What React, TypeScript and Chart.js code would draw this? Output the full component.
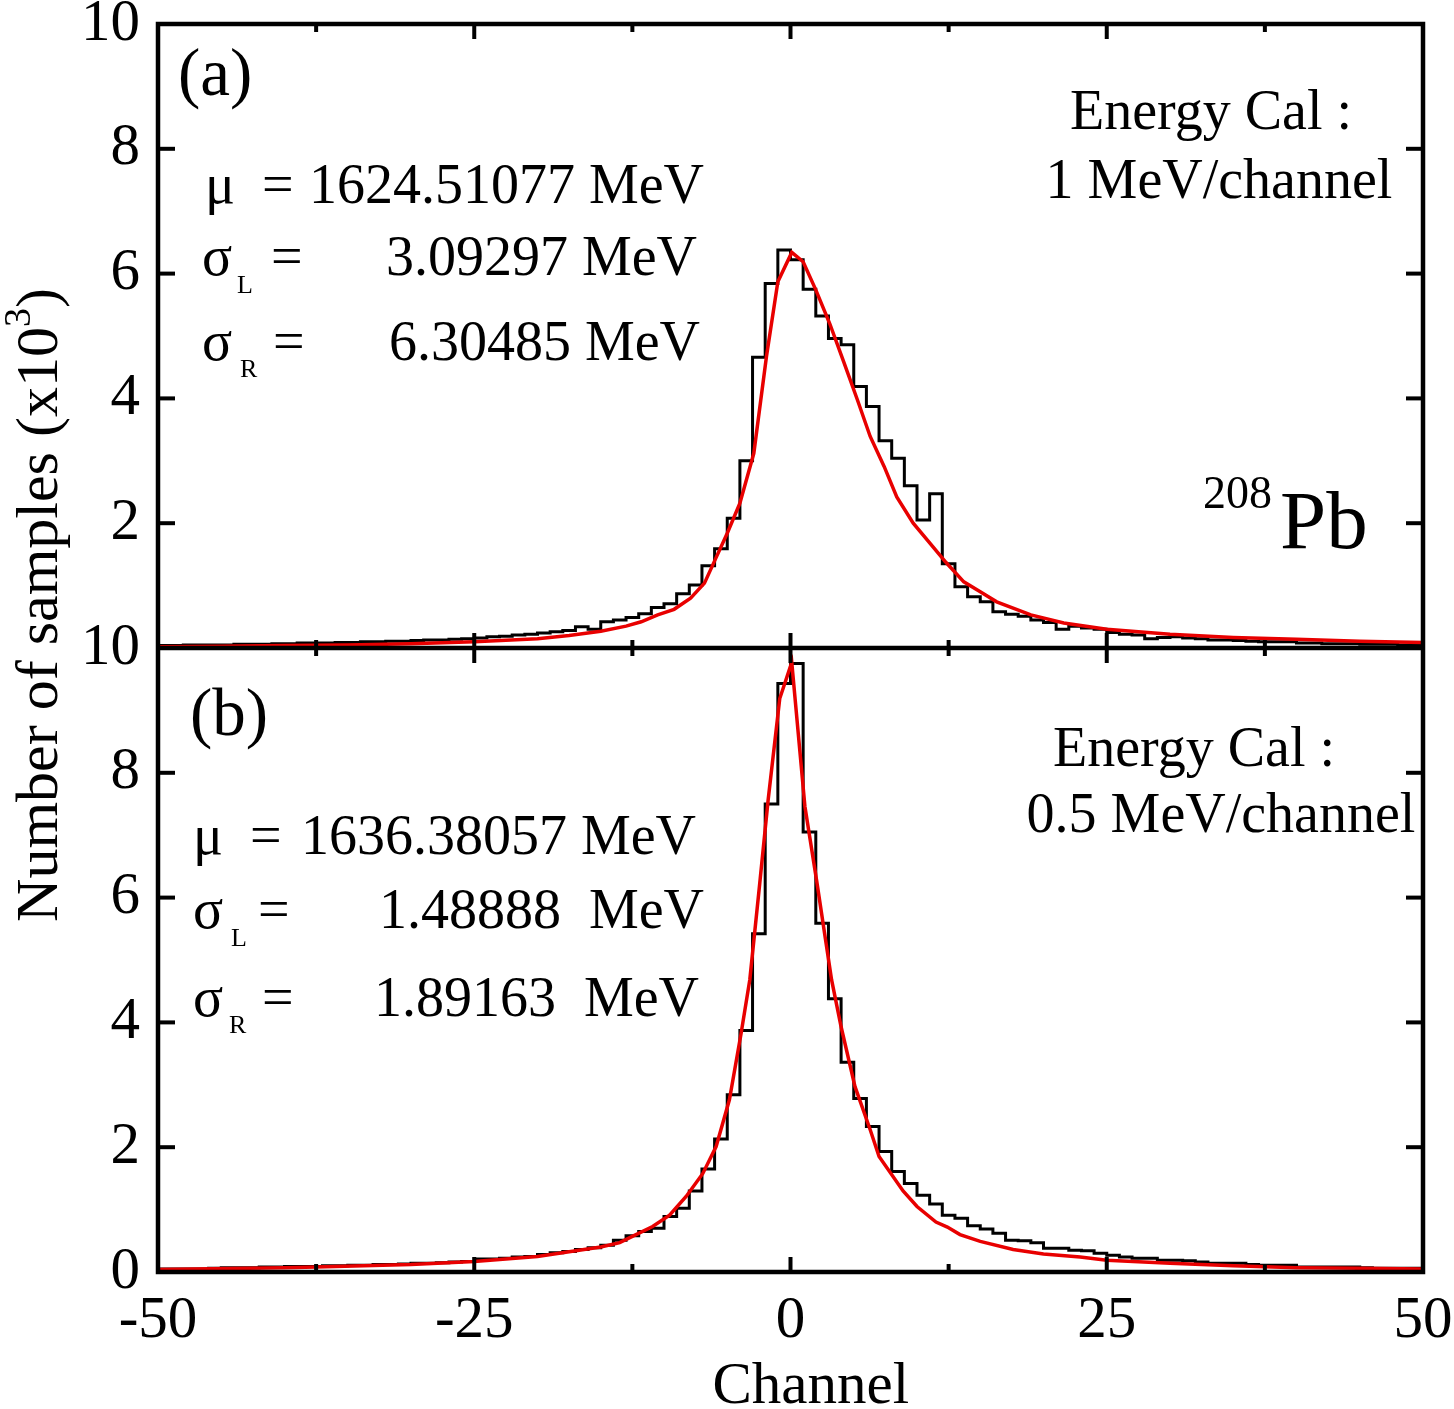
import React, { useEffect, useRef } from 'react';
import { Chart, registerables } from 'chart.js';

Chart.register(...registerables);

const SERIF = '"Liberation Serif", "Times New Roman", Times, serif';
const RED = 'rgb(232, 0, 0)';

// Histogram binning (channel units)
const binLow = -50;
const binWidth = 1;

// Panel (a): counts per channel bin (x10^3), bins -50 .. 49
const countsA = [
  0.04, 0.04, 0.05, 0.05, 0.05, 0.05, 0.06, 0.06, 0.06, 0.07,
  0.07, 0.08, 0.08, 0.08, 0.09, 0.09, 0.10, 0.10, 0.11, 0.11,
  0.12, 0.13, 0.13, 0.14, 0.15, 0.16, 0.18, 0.19, 0.21, 0.22,
  0.24, 0.26, 0.28, 0.34, 0.30, 0.42, 0.45, 0.49, 0.55, 0.65,
  0.71, 0.87, 1.01, 1.32, 1.59, 2.08, 3.00, 4.66, 5.84, 6.38,
  6.22, 5.75, 5.32, 4.96, 4.86, 4.19, 3.87, 3.32, 3.04, 2.60,
  2.05, 2.47, 1.35, 0.98, 0.82, 0.74, 0.58, 0.54, 0.51, 0.45,
  0.41, 0.30, 0.35, 0.32, 0.30, 0.25, 0.22, 0.21, 0.15, 0.17,
  0.18, 0.16, 0.15, 0.13, 0.13, 0.12, 0.11, 0.10, 0.10, 0.10,
  0.08, 0.08, 0.07, 0.07, 0.07, 0.06, 0.06, 0.06, 0.05, 0.05,
];

// Panel (b): counts per channel bin (x10^3), bins -50 .. 49
const countsB = [
  0.05, 0.05, 0.05, 0.05, 0.06, 0.07, 0.07, 0.07, 0.08, 0.08,
  0.09, 0.09, 0.09, 0.10, 0.10, 0.11, 0.11, 0.12, 0.12, 0.13,
  0.14, 0.14, 0.15, 0.16, 0.17, 0.21, 0.21, 0.22, 0.24, 0.25,
  0.28, 0.31, 0.33, 0.36, 0.39, 0.43, 0.51, 0.58, 0.65, 0.70,
  0.89, 1.02, 1.30, 1.65, 2.13, 2.84, 3.87, 5.42, 7.50, 9.43,
  9.75, 7.05, 5.59, 4.38, 3.36, 2.78, 2.33, 1.93, 1.61, 1.42,
  1.23, 1.09, 0.91, 0.86, 0.74, 0.69, 0.62, 0.51, 0.50, 0.47,
  0.38, 0.38, 0.35, 0.34, 0.30, 0.27, 0.24, 0.22, 0.22, 0.19,
  0.19, 0.18, 0.16, 0.14, 0.14, 0.14, 0.12, 0.11, 0.11, 0.11,
  0.08, 0.08, 0.08, 0.08, 0.08, 0.07, 0.06, 0.06, 0.06, 0.06,
];

// Fitted curves (red)
const fitAChannel = [-50, -45, -40, -35, -30, -25, -20, -17.5, -15, -13, -11.8, -10.5, -9.2, -7.9, -6.8, -5.9, -5, -4, -2.9, -1.9, -1, 0.1, 1, 2, 3.1, 4.2, 5.3, 6.3, 7.4, 8.4, 9.7, 11.1, 12.3, 13.7, 15, 16.3, 19, 21.6, 25, 30, 35, 40, 45, 50];
const fitAValue = [0.02, 0.03, 0.04, 0.05, 0.07, 0.10, 0.15, 0.20, 0.27, 0.35, 0.42, 0.53, 0.62, 0.80, 1.04, 1.44, 1.84, 2.32, 3.12, 4.67, 5.87, 6.34, 6.19, 5.74, 5.20, 4.59, 3.97, 3.39, 2.91, 2.42, 2.00, 1.66, 1.37, 1.06, 0.90, 0.74, 0.53, 0.40, 0.30, 0.22, 0.17, 0.14, 0.11, 0.09];

const fitBChannel = [-50, -40, -37.5, -30, -25, -20, -15, -13.5, -12.5, -10.9, -9.56, -8.25, -6.93, -5.88, -4.83, -3.9, -3.22, -2.43, -1.77, -0.85, 0.1, 1.14, 2.06, 3.25, 4.0, 5.1, 6.3, 7.0, 8.9, 10.0, 11.5, 12.4, 13.4, 15, 17.6, 20, 22.9, 25, 30, 35, 40, 45, 50];
const fitBValue = [0.04, 0.07, 0.08, 0.12, 0.17, 0.25, 0.40, 0.47, 0.57, 0.73, 0.91, 1.21, 1.58, 2.01, 2.76, 3.83, 4.68, 6.23, 7.56, 9.19, 9.77, 7.46, 6.28, 4.68, 3.93, 2.97, 2.28, 1.85, 1.30, 1.05, 0.80, 0.72, 0.60, 0.49, 0.36, 0.29, 0.24, 0.19, 0.14, 0.10, 0.07, 0.06, 0.05];

// Axis ticks
const xMajorTicks = [-50, -25, 0, 25, 50];
const xMinorTicks = [-37.5, -12.5, 12.5, 37.5];
const yTicks = [0, 2, 4, 6, 8, 10];
const yInnerTicks = [2, 4, 6, 8];

// Text
const xTitle = 'Channel';
const yTitleMain = 'Number of samples (x10';
const yTitleSup = '3';
const yTitleEnd = ')';
const panelAText = { tag: '(a)', mu: '1624.51077 MeV', sigmaL: '3.09297 MeV', sigmaR: '6.30485 MeV', cal1: 'Energy Cal :', cal2: '1 MeV/channel' };
const panelBText = { tag: '(b)', mu: '1636.38057 MeV', sigmaL: '1.48888  MeV', sigmaR: '1.89163  MeV', cal1: 'Energy Cal :', cal2: '0.5 MeV/channel' };

function histPoints(counts: number[]) {
  const pts = counts.map((v, i) => ({ x: binLow + i * binWidth, y: v }));
  pts.push({ x: binLow + counts.length * binWidth, y: counts[counts.length - 1] });
  return pts;
}

function curvePoints(xs: number[], ys: number[]) {
  return xs.map((x, i) => ({ x, y: ys[i] }));
}

function txt(ctx: CanvasRenderingContext2D, s: string, x: number, y: number, size: number, align: CanvasTextAlign = 'left') {
  ctx.font = `${size}px ${SERIF}`;
  ctx.textAlign = align;
  ctx.textBaseline = 'alphabetic';
  ctx.fillText(s, x, y);
}

const decorPlugin = {
  id: 'decor',
  afterDraw(chart: any) {
    const ctx: CanvasRenderingContext2D = chart.ctx;
    const x = chart.scales.x;
    const yA = chart.scales.yA;
    const yB = chart.scales.yB;
    const L = x.left;
    const R = x.right;
    ctx.save();
    ctx.strokeStyle = '#000';
    ctx.fillStyle = '#000';
    ctx.lineCap = 'butt';
    const seg = (x1: number, y1: number, x2: number, y2: number) => {
      ctx.beginPath();
      ctx.moveTo(x1, y1);
      ctx.lineTo(x2, y2);
      ctx.stroke();
    };
    ctx.lineWidth = 4;
    for (const p of [yA, yB]) {
      for (const v of xMajorTicks) {
        const px = x.getPixelForValue(v);
        seg(px, p.top, px, p.top + 15);
        seg(px, p.bottom, px, p.bottom - 15);
      }
      for (const v of xMinorTicks) {
        const px = x.getPixelForValue(v);
        seg(px, p.top, px, p.top + 8);
        seg(px, p.bottom, px, p.bottom - 8);
      }
      for (const v of yInnerTicks) {
        const py = p.getPixelForValue(v);
        seg(L, py, L + 17, py);
        seg(R, py, R - 17, py);
      }
    }
    ctx.lineWidth = 4.5;
    ctx.strokeRect(L, yA.top, R - L, yB.bottom - yA.top);
    seg(L, yA.bottom, R, yA.bottom);

    // Panel annotations
    const F = 56;
    const drawPanel = (p: any, t: any, o: any) => {
      const ox = L;
      const oy = p.top;
      txt(ctx, t.tag, ox + o.tag[0], oy + o.tag[1], 67);
      txt(ctx, 'μ', ox + o.mu[0], oy + o.mu[1], F);
      txt(ctx, '=', ox + o.mu[2], oy + o.mu[1], F);
      txt(ctx, t.mu, ox + o.mu[3], oy + o.mu[1], F, 'right');
      txt(ctx, 'σ', ox + o.sl[0], oy + o.sl[1], F);
      txt(ctx, 'L', ox + o.sl[2], oy + o.sl[1] + 18, 26);
      txt(ctx, '=', ox + o.sl[3], oy + o.sl[1], F);
      txt(ctx, t.sigmaL, ox + o.sl[4], oy + o.sl[1], F, 'right');
      txt(ctx, 'σ', ox + o.sr[0], oy + o.sr[1], F);
      txt(ctx, 'R', ox + o.sr[2], oy + o.sr[1] + 17, 26);
      txt(ctx, '=', ox + o.sr[3], oy + o.sr[1], F);
      txt(ctx, t.sigmaR, ox + o.sr[4], oy + o.sr[1], F, 'right');
      txt(ctx, t.cal1, ox + o.cal1[0], oy + o.cal1[1], F, 'center');
      txt(ctx, t.cal2, ox + o.cal2[0], oy + o.cal2[1], F, 'center');
    };
    drawPanel(yA, panelAText, {
      tag: [20, 71],
      mu: [47, 179, 104, 546],
      sl: [44, 251, 79, 113, 539],
      sr: [44, 336, 82, 115, 542],
      cal1: [1053, 105],
      cal2: [1061, 174],
    });
    drawPanel(yB, panelBText, {
      tag: [32, 87],
      mu: [35, 206, 92, 538],
      sl: [35, 280, 73, 100, 546],
      sr: [35, 368, 71, 104, 541],
      cal1: [1036, 118],
      cal2: [1063, 184],
    });
    // 208Pb
    txt(ctx, '208', L + 1045, yA.top + 484, 46);
    txt(ctx, 'Pb', L + 1122, yA.top + 524, 83);

    // Axis titles
    txt(ctx, xTitle, x.getPixelForValue(1.6), 1403, 59, 'center');
    ctx.save();
    ctx.translate(57, 605);
    ctx.rotate(-Math.PI / 2);
    ctx.font = `60px ${SERIF}`;
    const w1 = ctx.measureText(yTitleMain).width;
    const w3 = ctx.measureText(yTitleEnd).width;
    ctx.font = `38px ${SERIF}`;
    const w2 = ctx.measureText(yTitleSup).width;
    const sx = -(w1 + w2 + w3) / 2;
    txt(ctx, yTitleMain, sx, 0, 60);
    txt(ctx, yTitleSup, sx + w1, -27, 38);
    txt(ctx, yTitleEnd, sx + w1 + w2, 0, 60);
    ctx.restore();

    ctx.restore();
  },
};

const tickFont = { family: SERIF, size: 59 };

function yScale(weight: number, hideZero: boolean) {
  return {
    type: 'linear',
    position: 'left',
    stack: 'panels',
    stackWeight: 1,
    weight,
    min: 0,
    max: 10,
    grid: { display: false, drawTicks: false },
    border: { display: false },
    afterBuildTicks: (s: any) => {
      s.ticks = yTicks.map((v) => ({ value: v }));
    },
    afterFit: (s: any) => {
      s.width = 158;
      s.paddingTop = 0;
      s.paddingBottom = 0;
    },
    ticks: {
      font: tickFont,
      color: '#000',
      padding: 18,
      autoSkip: false,
      callback: (v: any) => (hideZero && v === 0 ? '' : String(v)),
    },
  };
}

export default function App() {
  const ref = useRef<HTMLCanvasElement | null>(null);
  useEffect(() => {
    if (!ref.current) return;
    const chart = new Chart(ref.current, {
      type: 'line',
      data: {
        datasets: [
          { label: 'Fit (a)', data: curvePoints(fitAChannel, fitAValue), xAxisID: 'x', yAxisID: 'yA', borderColor: RED, borderWidth: 3.5, pointRadius: 0, tension: 0, fill: false },
          { label: 'Fit (b)', data: curvePoints(fitBChannel, fitBValue), xAxisID: 'x', yAxisID: 'yB', borderColor: RED, borderWidth: 3.5, pointRadius: 0, tension: 0, fill: false },
          { label: 'Histogram (a)', data: histPoints(countsA), xAxisID: 'x', yAxisID: 'yA', borderColor: '#000', borderWidth: 3, pointRadius: 0, stepped: 'before', fill: false },
          { label: 'Histogram (b)', data: histPoints(countsB), xAxisID: 'x', yAxisID: 'yB', borderColor: '#000', borderWidth: 3, pointRadius: 0, stepped: 'before', fill: false },
        ],
      } as any,
      options: {
        animation: false,
        responsive: true,
        maintainAspectRatio: false,
        parsing: false,
        layout: { padding: { top: 24, right: 31, left: 0, bottom: 0 } },
        plugins: { legend: { display: false }, tooltip: { enabled: false }, title: { display: false } },
        scales: {
          x: {
            type: 'linear',
            position: 'bottom',
            min: -50,
            max: 50,
            grid: { display: false, drawTicks: false },
            border: { display: false },
            afterBuildTicks: (s: any) => {
              s.ticks = xMajorTicks.map((v) => ({ value: v }));
            },
            afterFit: (s: any) => {
              s.height = 137;
              s.paddingLeft = 0;
              s.paddingRight = 0;
            },
            ticks: { font: tickFont, color: '#000', padding: 14, maxRotation: 0, autoSkip: false },
          },
          yB: yScale(1, false),
          yA: yScale(2, true),
        } as any,
      },
      plugins: [decorPlugin],
    });
    return () => chart.destroy();
  }, []);
  return (
    <div style={{ position: 'absolute', left: 0, top: 0, width: 1454, height: 1409, background: '#fff' }}>
      <canvas ref={ref} />
    </div>
  );
}
